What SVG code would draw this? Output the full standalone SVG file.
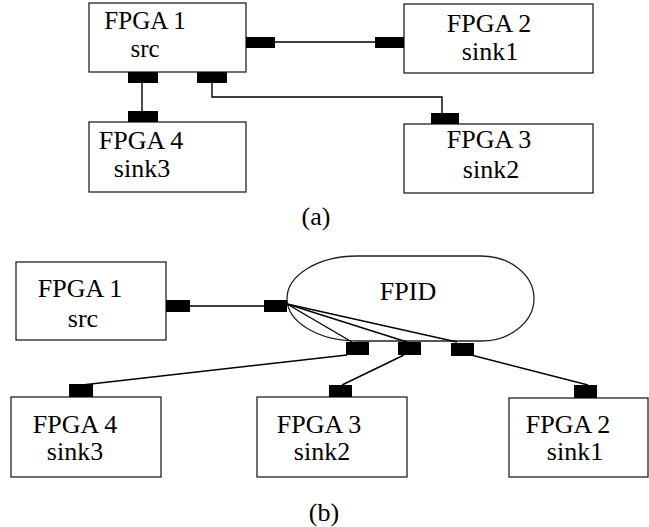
<svg xmlns="http://www.w3.org/2000/svg" width="649" height="527" viewBox="0 0 649 527">
  <style>
    .box { fill: #fff; stroke: #222; stroke-width: 1.3; }
    .port { fill: #000; }
    .wire { fill: none; stroke: #000; stroke-width: 1.4; }
    .lbl { font-family: 'Times New Roman', 'Liberation Serif', 'DejaVu Serif', 'Noto Serif', serif; font-size: 26px; fill: #000; text-anchor: middle; }
  </style>
  <rect width="649" height="527" fill="#fff"/>

  <!-- (a) point-to-point wiring -->
  <g id="a-fpga1">
    <rect class="box" x="89" y="3" width="157" height="69"/>
    <text class="lbl" font-size="25" style="font-size:25px"><tspan x="145" y="29">FPGA 1</tspan><tspan x="145" y="57">src</tspan></text>
    <rect class="port" x="246" y="37" width="29" height="11"/>
    <rect class="port" x="128" y="72" width="30" height="11"/>
    <rect class="port" x="197" y="72" width="30" height="11"/>
  </g>
  <g id="a-fpga2">
    <rect class="box" x="404" y="4" width="189" height="69"/>
    <text class="lbl"><tspan x="489" y="32">FPGA 2</tspan><tspan x="490" y="60">sink1</tspan></text>
    <rect class="port" x="375" y="37" width="29" height="11"/>
  </g>
  <g id="a-fpga4">
    <rect class="box" x="89" y="122" width="157" height="70"/>
    <text class="lbl"><tspan x="141" y="149">FPGA 4</tspan><tspan x="142" y="177">sink3</tspan></text>
    <rect class="port" x="128" y="111" width="30" height="11"/>
  </g>
  <g id="a-fpga3">
    <rect class="box" x="404" y="124" width="189" height="69"/>
    <text class="lbl"><tspan x="489" y="148">FPGA 3</tspan><tspan x="491" y="178">sink2</tspan></text>
    <rect class="port" x="431" y="113" width="28" height="11"/>
  </g>
  <g id="connectors-a">
    <line class="wire" x1="275" y1="42" x2="375" y2="42"/>
    <line class="wire" x1="142" y1="83" x2="142" y2="111"/>
    <polyline class="wire" points="212,83 212,97 442,97 442,113"/>
  </g>
  <text class="lbl" x="316" y="225">(a)</text>

  <!-- (b) wiring through the FPID -->
  <g id="b-fpga1">
    <rect class="box" x="16" y="262" width="150" height="78"/>
    <text class="lbl"><tspan x="80" y="297">FPGA 1</tspan><tspan x="83" y="327">src</tspan></text>
    <rect class="port" x="166" y="300" width="24" height="12"/>
  </g>
  <g id="b-fpid">
    <path class="box" d="M357,256 L481,256 A53,42.5 0 0 1 481,341 L357,341 A70,42.5 0 0 1 357,256 Z"/>
    <text class="lbl" x="408" y="300">FPID</text>
    <rect class="port" x="264" y="300" width="23" height="12"/>
    <rect class="port" x="346" y="342" width="23" height="13"/>
    <rect class="port" x="398" y="342" width="23" height="13"/>
    <rect class="port" x="451" y="343" width="23" height="13"/>
  </g>
  <g id="b-fpga4">
    <rect class="box" x="11" y="397" width="150" height="80"/>
    <text class="lbl"><tspan x="75" y="433">FPGA 4</tspan><tspan x="75" y="460">sink3</tspan></text>
    <rect class="port" x="69" y="384" width="24" height="13"/>
  </g>
  <g id="b-fpga3">
    <rect class="box" x="257" y="397" width="150" height="80"/>
    <text class="lbl"><tspan x="319" y="433">FPGA 3</tspan><tspan x="322" y="460">sink2</tspan></text>
    <rect class="port" x="329" y="385" width="23" height="12"/>
  </g>
  <g id="b-fpga2">
    <rect class="box" x="509" y="398" width="139" height="79"/>
    <text class="lbl"><tspan x="568" y="433">FPGA 2</tspan><tspan x="575" y="460">sink1</tspan></text>
    <rect class="port" x="574" y="385" width="23" height="13"/>
  </g>
  <g id="connectors-b">
    <line class="wire" x1="190" y1="306" x2="264" y2="306"/>
    <line class="wire" x1="287" y1="304" x2="352" y2="342"/>
    <line class="wire" x1="287" y1="304" x2="407" y2="342"/>
    <line class="wire" x1="287" y1="304" x2="457" y2="342"/>
    <line class="wire" x1="347" y1="355" x2="82" y2="385"/>
    <line class="wire" x1="404" y1="355" x2="342" y2="385"/>
    <line class="wire" x1="471" y1="355" x2="588" y2="385"/>
  </g>
  <text class="lbl" x="324" y="521">(b)</text>
</svg>
